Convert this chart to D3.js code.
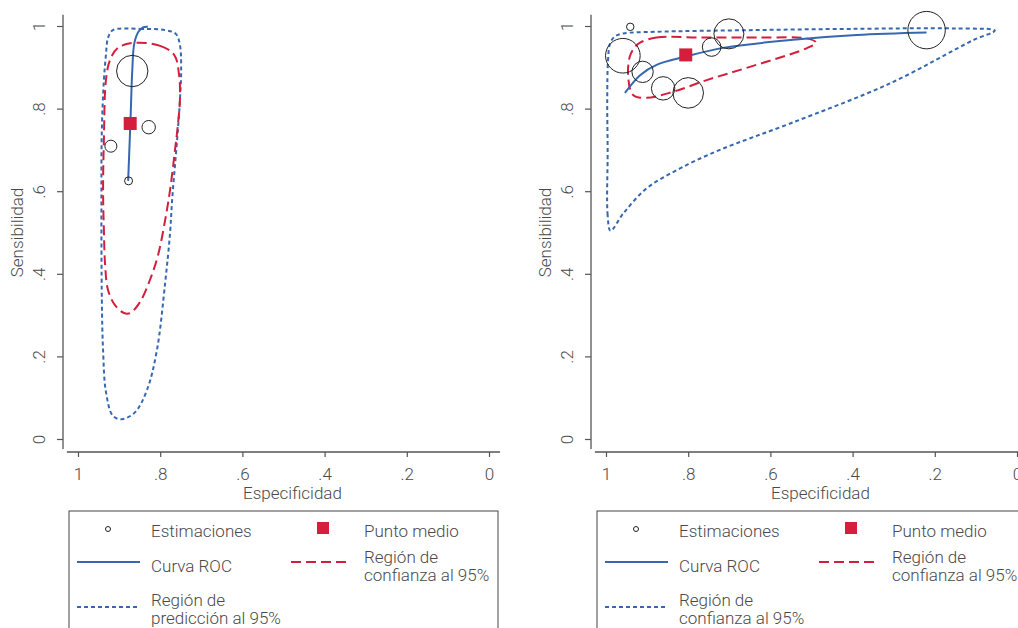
<!DOCTYPE html>
<html>
<head>
<meta charset="utf-8">
<script src="https://cdn.jsdelivr.net/npm/d3@7"></script>
<style>
  body { margin: 0; background: #fff; }
  text { font-family: Roboto, "Liberation Sans", sans-serif; font-weight: 300; fill: #4a4a4a; }
</style>
</head>
<body>
<svg id="chart" width="1018" height="628"></svg>
<script>
// valores de los ejes
const ticks = [1, 0.8, 0.6, 0.4, 0.2, 0];
const tickLabels = ["1", ".8", ".6", ".4", ".2", "0"];

// panel izquierdo: estimaciones (especificidad, sensibilidad, peso)
const estIzq = [
  {esp: 0.868, sens: 0.891, peso: 246},
  {esp: 0.828, sens: 0.755, peso: 45},
  {esp: 0.920, sens: 0.709, peso: 36},
  {esp: 0.877, sens: 0.625, peso: 16}
];
const medioIzq = {esp: 0.873, sens: 0.764};
const rocIzq = [[0.878, 0.625], [0.872, 0.78], [0.868, 0.891], [0.863, 0.958], [0.853, 0.986], [0.841, 0.997], [0.830, 0.998]];
const confIzq = [[0.866, 0.959], [0.800, 0.952], [0.766, 0.930], [0.754, 0.881], [0.752, 0.821], [0.757, 0.760],
  [0.764, 0.700], [0.776, 0.603], [0.788, 0.530], [0.805, 0.446], [0.825, 0.385], [0.849, 0.332], [0.873, 0.305],
  [0.888, 0.305], [0.910, 0.324], [0.927, 0.361], [0.934, 0.421], [0.937, 0.506], [0.939, 0.603], [0.937, 0.724],
  [0.932, 0.869], [0.922, 0.918], [0.903, 0.947]];
const predIzq = [[0.915, 0.990], [0.849, 0.993], [0.788, 0.990], [0.762, 0.981], [0.752, 0.954], [0.749, 0.893],
  [0.752, 0.821], [0.757, 0.748], [0.764, 0.663], [0.771, 0.579], [0.776, 0.499], [0.788, 0.378], [0.808, 0.215],
  [0.832, 0.119], [0.861, 0.065], [0.893, 0.048], [0.915, 0.056], [0.932, 0.114], [0.939, 0.215], [0.942, 0.337],
  [0.943, 0.579], [0.942, 0.748], [0.937, 0.869], [0.932, 0.930], [0.927, 0.971]];

// panel derecho
const estDer = [
  {esp: 0.941, sens: 0.998, peso: 14},
  {esp: 0.959, sens: 0.928, peso: 300},
  {esp: 0.911, sens: 0.889, peso: 114},
  {esp: 0.861, sens: 0.849, peso: 137},
  {esp: 0.800, sens: 0.838, peso: 234},
  {esp: 0.743, sens: 0.949, peso: 86},
  {esp: 0.701, sens: 0.981, peso: 225},
  {esp: 0.220, sens: 0.990, peso: 350}
];
const medioDer = {esp: 0.806, sens: 0.930};
const rocDer = [[0.954, 0.838], [0.917, 0.881], [0.877, 0.906], [0.806, 0.926], [0.715, 0.947], [0.552, 0.966], [0.390, 0.978], [0.220, 0.984]];
const confDer = [[0.917, 0.960], [0.877, 0.972], [0.771, 0.972], [0.625, 0.972], [0.512, 0.970], [0.489, 0.960],
  [0.512, 0.946], [0.650, 0.901], [0.755, 0.869], [0.836, 0.841], [0.901, 0.826], [0.934, 0.833], [0.946, 0.877],
  [0.942, 0.926], [0.929, 0.950]];
const predDer = [[0.989, 0.504], [0.996, 0.542], [0.996, 0.700], [0.997, 0.821], [0.995, 0.918], [0.990, 0.958],
  [0.978, 0.975], [0.958, 0.982], [0.877, 0.986], [0.650, 0.990], [0.406, 0.993], [0.147, 0.994], [0.054, 0.989],
  [0.106, 0.966], [0.309, 0.861], [0.552, 0.764], [0.723, 0.700], [0.820, 0.655], [0.901, 0.607], [0.958, 0.546]];

const leyendaIzq = ["Estimaciones", "Punto medio", "Curva ROC", ["Región de", "confianza al 95%"], ["Región de", "predicción al 95%"]];
const leyendaDer = ["Estimaciones", "Punto medio", "Curva ROC", ["Región de", "confianza al 95%"], ["Región de", "confianza al 95%"]];

const azul = "#3568b0";
const rojo = "#d41e3c";
const gris = "#555";

const svg = d3.select("#chart");
const y = d3.scaleLinear().domain([0, 1]).range([439, 26]);
const r = d3.scaleSqrt().domain([0, 400]).range([0, 20]);

function panel(x0, est, medio, roc, conf, pred, leyenda) {
  const x = d3.scaleLinear().domain([1, 0]).range([x0, x0 + 411]);
  const g = svg.append("g");
  const ejeX0 = x0 - 15;

  // eje y
  const ay = g.append("g").attr("transform", `translate(${ejeX0},0)`)
    .call(d3.axisLeft(y).tickValues(ticks).tickSize(6).tickFormat((d, i) => tickLabels[i]));
  ay.select(".domain").remove();
  ay.append("line").attr("y1", y(1.027)).attr("y2", y(-0.024)).attr("stroke", gris).attr("stroke-width", 1.3);
  ay.selectAll(".tick line").attr("stroke", gris).attr("stroke-width", 1.2);
  ay.selectAll(".tick text").attr("x", null).attr("dy", null)
    .attr("transform", "translate(-18,0) rotate(-90)")
    .attr("text-anchor", "middle").style("font-size", "17px").style("font-family", null);

  // eje x
  const ax = g.append("g").attr("transform", "translate(0,452)")
    .call(d3.axisBottom(x).tickValues(ticks).tickSize(5).tickPadding(11).tickFormat((d, i) => tickLabels[i]));
  ax.select(".domain").remove();
  ax.append("line").attr("x1", x(1.027)).attr("x2", x(-0.027)).attr("stroke", gris).attr("stroke-width", 1.3);
  ax.selectAll(".tick line").attr("stroke", gris).attr("stroke-width", 1.2);
  ax.selectAll(".tick text").style("font-size", "17px").style("font-family", null);

  g.append("text").attr("x", x(0.5) + 9).attr("y", 499).attr("text-anchor", "middle")
    .style("font-size", "17px").text("Especificidad");
  g.append("text").attr("transform", `translate(${ejeX0 - 40},${y(0.5)}) rotate(-90)`)
    .attr("text-anchor", "middle").style("font-size", "17px").text("Sensibilidad");

  const linea = d3.line().x(d => x(d[0])).y(d => y(d[1]));

  g.append("path").attr("d", linea.curve(d3.curveCatmullRomClosed.alpha(0.5))(pred))
    .attr("fill", "none").attr("stroke", azul).attr("stroke-width", 2).attr("stroke-dasharray", "4,3");
  g.append("path").attr("d", linea.curve(d3.curveCatmullRomClosed.alpha(0.5))(conf))
    .attr("fill", "none").attr("stroke", rojo).attr("stroke-width", 2).attr("stroke-dasharray", "10,5");
  g.append("path").attr("d", linea.curve(d3.curveCatmullRom.alpha(0.5))(roc))
    .attr("fill", "none").attr("stroke", azul).attr("stroke-width", 2);

  g.selectAll("circle.est").data(est).enter().append("circle")
    .attr("cx", d => x(d.esp)).attr("cy", d => y(d.sens)).attr("r", d => r(d.peso))
    .attr("fill", "none").attr("stroke", "#222").attr("stroke-width", 1);

  g.append("rect").attr("x", x(medio.esp) - 6.5).attr("y", y(medio.sens) - 6.5)
    .attr("width", 13).attr("height", 13).attr("fill", rojo);

  // leyenda
  const lx = ejeX0 - 9 + 15;
  const lg = g.append("g").attr("transform", `translate(${lx},511)`);
  lg.append("rect").attr("x", 0).attr("y", 0).attr("width", 429).attr("height", 140)
    .attr("fill", "none").attr("stroke", "#444").attr("stroke-width", 1);

  lg.append("circle").attr("cx", 39).attr("cy", 18).attr("r", 2.5).attr("fill", "none").attr("stroke", "#222");
  lg.append("rect").attr("x", 248).attr("y", 11).attr("width", 12).attr("height", 12).attr("fill", rojo);
  lg.append("line").attr("x1", 8).attr("x2", 71).attr("y1", 51).attr("y2", 51).attr("stroke", azul).attr("stroke-width", 2);
  lg.append("line").attr("x1", 222).attr("x2", 279).attr("y1", 51).attr("y2", 51).attr("stroke", rojo)
    .attr("stroke-width", 2).attr("stroke-dasharray", "10,5");
  lg.append("line").attr("x1", 8).attr("x2", 71).attr("y1", 96).attr("y2", 96).attr("stroke", azul)
    .attr("stroke-width", 2).attr("stroke-dasharray", "4,3");

  const textos = [[82, 26], [295, 26], [82, 61], [295, 52], [82, 95]];
  leyenda.forEach((t, i) => {
    const lineas = Array.isArray(t) ? t : [t];
    const tx = lg.append("text").attr("x", textos[i][0]).attr("y", textos[i][1]).style("font-size", "17px");
    lineas.forEach((s, j) => tx.append("tspan").attr("x", textos[i][0]).attr("dy", j === 0 ? 0 : 18).text(s));
  });
}

panel(78, estIzq, medioIzq, rocIzq, confIzq, predIzq, leyendaIzq);
panel(606, estDer, medioDer, rocDer, confDer, predDer, leyendaDer);
</script>
</body>
</html>
